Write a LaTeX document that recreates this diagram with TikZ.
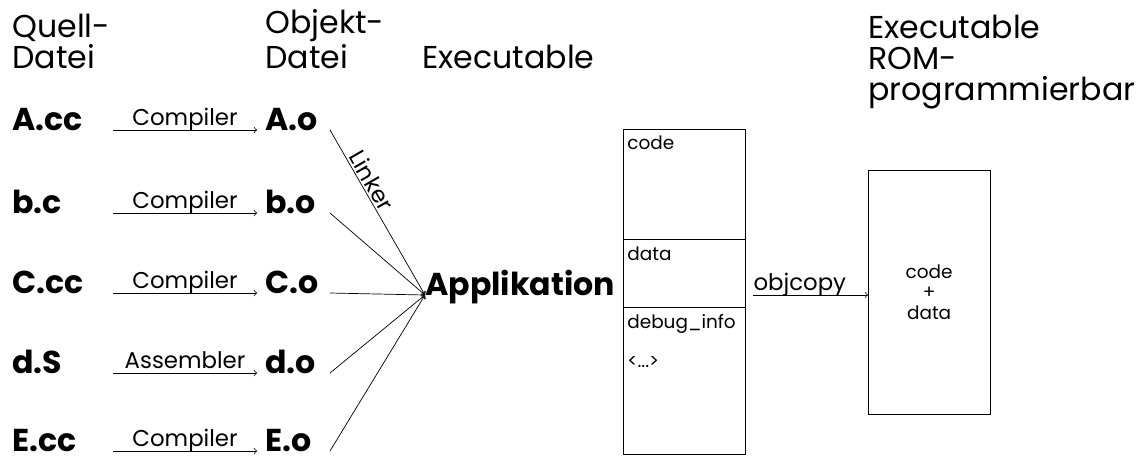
\documentclass[tikz,border=0pt]{standalone}
\usepackage{fontspec}
\setmainfont{Poppins}
\usetikzlibrary{calc}

\begin{document}
\begin{tikzpicture}[x=0.02cm, y=-0.02cm, >=to, every node/.style={inner sep=0pt},
  head/.style={font=\fontsize{18}{17.6}\selectfont, align=left, anchor=base west},
  file/.style={font=\fontsize{18}{18}\selectfont\bfseries, anchor=base west},
  tool/.style={font=\fontsize{13}{14}\selectfont, anchor=base, yshift=2.5pt, midway},
  sect/.style={font=\fontsize{10.5}{12}\selectfont, anchor=north west}]
  \useasboundingbox (0,0) rectangle (1147,458);
  % column headings (base = last line)
  \node[head] (hsrc) at (12,68) {Quell-\\Datei};
  \node[head] (hobj) at (265,68) {Objekt-\\Datei};
  \node[head] (hexe) at (422,68) {Executable};
  \node[head] (hrom) at (868,100) {Executable\\ROM-\\programmierbar};

  % source and object files
  \foreach \src/\obj/\yy [count=\i] in {A.cc/A.o/130, b.c/b.o/213, C.cc/C.o/293, d.S/d.o/373, E.cc/E.o/451} {
    \node[file] (src\i) at (12,\yy) {\src};
    \node[file] (obj\i) at (265,\yy) {\obj};
  }
  \coordinate (cstart) at (113,0);
  \coordinate (lstart) at (330,0);

  \node[file] (app) at (425,295) {Applikation};

  % compiler / assembler steps
  \foreach \i/\tool in {1/Compiler, 2/Compiler, 3/Compiler, 4/Assembler, 5/Compiler}
    \draw[->] (cstart |- obj\i.base) -- ([xshift=-4.5pt]obj\i.base west) node[tool] {\tool};

  % linker
  \draw[->] (lstart |- obj1.base) -- (app.base west)
    node[font=\fontsize{13}{14}\selectfont, sloped, pos=0.34, above=1pt] {Linker};
  \foreach \i in {2,...,5}
    \draw[->] (lstart |- obj\i.base) -- (app.base west);

  % executable with its sections
  \node[draw, anchor=north west, minimum width=69.2pt, minimum height=184.8pt] (exe) at (623,129) {};
  \draw (exe.west |- 0,239) -- (exe.east |- 0,239);
  \draw (exe.west |- 0,307) -- (exe.east |- 0,307);
  \node[sect] (scode) at (627,135) {code};
  \node[sect] (sdata) at (627,246) {data};
  \node[sect] (sdebug) at (627,314) {debug\_info};
  \node[sect] (srest) at (627,356) {<...>};

  % ROM image
  \node[draw, anchor=north west, minimum width=69.2pt, minimum height=138.6pt,
        align=center, font=\fontsize{10.5}{11.5}\selectfont] (rom) at (868,170) {code\\+\\data};
  \draw[->] ([xshift=4.5pt]exe.east |- app.base) -- (rom.west |- app.base)
    node[pos=0, anchor=base west, yshift=2.5pt, font=\fontsize{13}{14}\selectfont] {objcopy};
\end{tikzpicture}
\end{document}
